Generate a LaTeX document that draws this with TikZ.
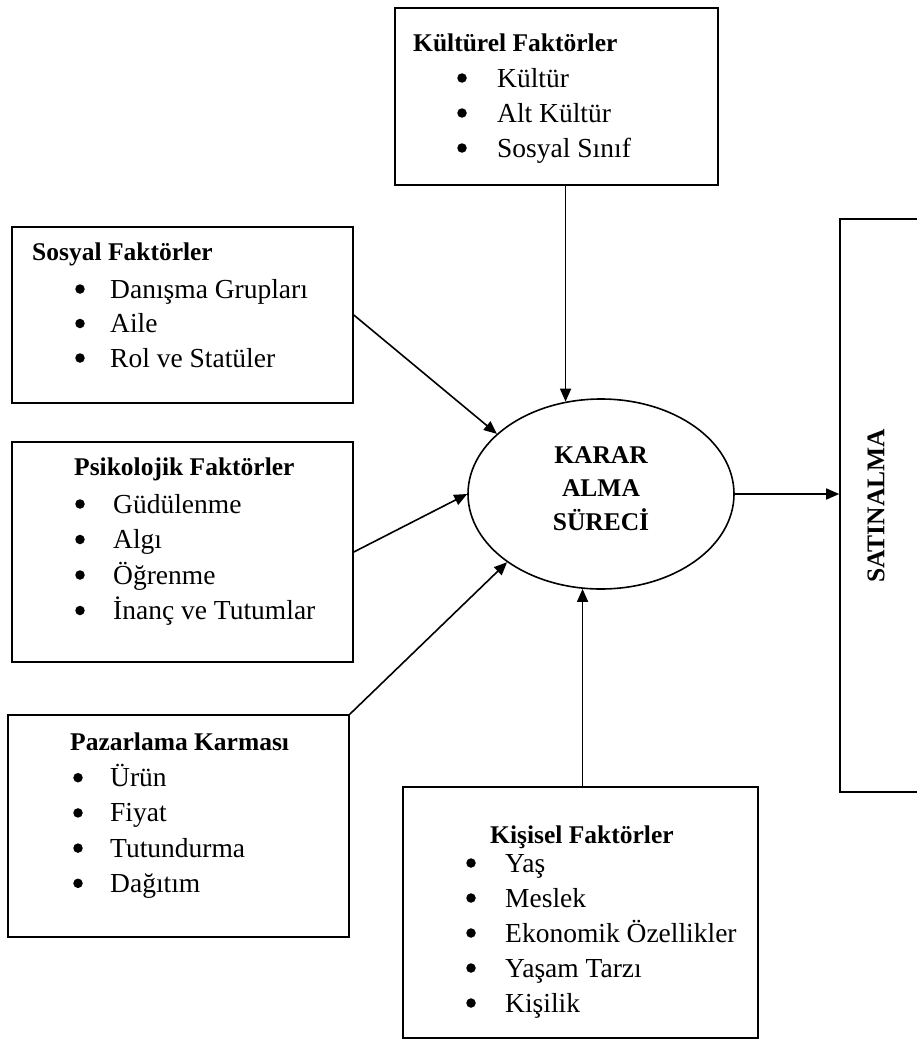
\documentclass[tikz,border=0pt]{standalone}
\usepackage{fontspec}
\setmainfont{Liberation Serif}
\usetikzlibrary{arrows.meta,shapes.geometric}
\begin{document}
\begin{tikzpicture}[x=1pt,y=-1pt,
  frame/.style={draw, line width=1.6pt, inner sep=0pt},
  head/.style={anchor=base west, inner sep=0pt, font=\fontsize{25.5}{30}\selectfont\bfseries},
  item/.style={anchor=base west, inner sep=0pt, font=\fontsize{27.5}{33}\selectfont},
  dot/.style={circle, fill, inner sep=0pt, minimum size=9.5pt},
  core/.style={anchor=base, inner sep=0pt, font=\fontsize{25.5}{30}\selectfont\bfseries},
  flow/.style={line width=1.6pt, -{Triangle[length=13pt,width=11pt]}},
]
\useasboundingbox (0,0) rectangle (917,1041);
\clip (0,0) rectangle (917,1041);

% factor boxes
\node[frame, minimum width=323pt, minimum height=177pt] (kul) at (556.5,96.5) {};
\node[frame, minimum width=341pt, minimum height=176pt] (sos) at (182.5,315) {};
\node[frame, minimum width=341pt, minimum height=220pt] (psi) at (182.5,552) {};
\node[frame, minimum width=341pt, minimum height=222pt] (paz) at (178.5,826) {};
\node[frame, minimum width=355pt, minimum height=251pt] (kis) at (580.5,912.5) {};

% decision process and purchase
\node[frame, ellipse, minimum width=266pt, minimum height=190pt] (dm) at (601,494) {};
\foreach \t [count=\i] in {KARAR,ALMA,SÜRECİ}
  \node[core] (dmt\i) at (601,430+33.4*\i) {\t};

\node[frame, minimum width=90pt, minimum height=573pt] (sat) at (885,505.5) {};
\node[inner sep=0pt, rotate=90, font=\fontsize{25.5}{30}\selectfont\bfseries] (satt) at (876,506) {SATINALMA};

% texts of the boxes (bullets sit 9pt above the baseline)
\node[head] (kulh) at (413,52) {Kültürel Faktörler};
\foreach \t [count=\i] in {Kültür,Alt Kültür,Sosyal Sınıf} {
  \node[dot] (kuld\i) at (462,43+35*\i) {};
  \node[item] (kuli\i) at (497,52+35*\i) {\t};
}

\node[head] (sosh) at (32,260) {Sosyal Faktörler};
\foreach \t [count=\i] in {Danışma Grupları,Aile,Rol ve Statüler} {
  \node[dot] (sosd\i) at (80,254.5+34.5*\i) {};
  \node[item] (sosi\i) at (110,263.5+34.5*\i) {\t};
}

\node[head] (psih) at (74,475) {Psikolojik Faktörler};
\foreach \t [count=\i] in {Güdülenme,Algı,Öğrenme,İnanç ve Tutumlar} {
  \node[dot] (psid\i) at (80,468.5+35.5*\i) {};
  \node[item] (psii\i) at (113,477.5+35.5*\i) {\t};
}

\node[head] (pazh) at (70,750) {Pazarlama Karması};
\foreach \t [count=\i] in {Ürün,Fiyat,Tutundurma,Dağıtım} {
  \node[dot] (pazd\i) at (78,742.5+35.2*\i) {};
  \node[item] (pazi\i) at (110,751.5+35.2*\i) {\t};
}

\node[head] (kish) at (490,843) {Kişisel Faktörler};
\foreach \t [count=\i] in {Yaş,Meslek,Ekonomik Özellikler,Yaşam Tarzı,Kişilik} {
  \node[dot] (kisd\i) at (471,828+35*\i) {};
  \node[item] (kisi\i) at (505,837+35*\i) {\t};
}

% influences on the decision process
\draw[flow] (kul.south -| dm.111) -- (dm.111);
\draw[flow] (sos.east) -- (dm.150);
\draw[flow] (psi.east) -- (dm.west);
\draw[flow] (paz.north east) -- (dm.216);
\draw[flow] (kis.north -| dm.259) -- (dm.259);
\draw[flow] (dm.east) -- (sat.west |- dm.east);
\end{tikzpicture}
\end{document}
